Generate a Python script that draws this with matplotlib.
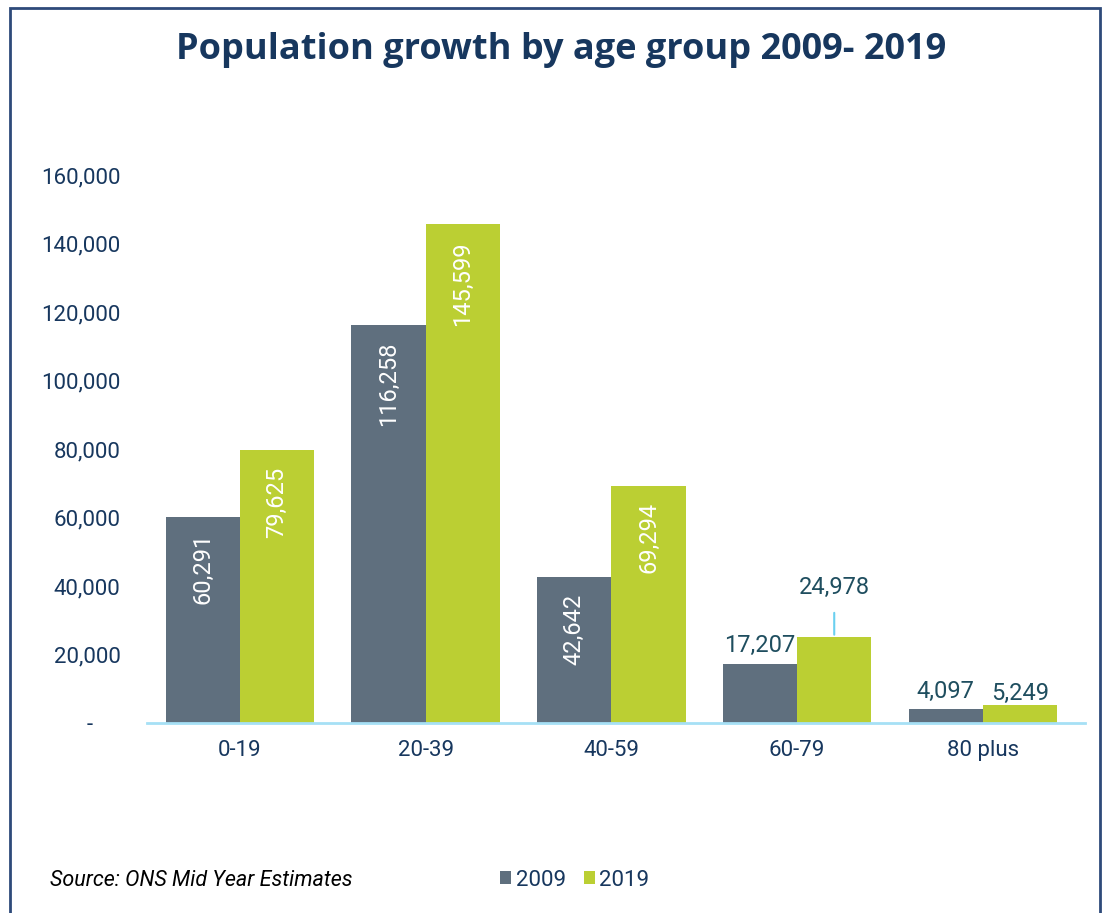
import matplotlib
matplotlib.use('Agg')
import matplotlib.pyplot as plt
from matplotlib.patches import Rectangle
import numpy as np

age_groups = ['0-19', '20-39', '40-59', '60-79', '80 plus']
pop_2009 = [60291, 116258, 42642, 17207, 4097]
pop_2019 = [79625, 145599, 69294, 24978, 5249]
y_ticks = [0, 20000, 40000, 60000, 80000, 100000, 120000, 140000, 160000]

GREY = '#5f6f7e'
GREEN = '#bbcf33'
NAVY = '#17375e'
TEAL = '#1f4e5f'
LIGHT_BLUE = '#a6e0f5'

plt.rcParams['font.family'] = ['Roboto', 'DejaVu Sans']

fig = plt.figure(figsize=(11.12, 9.13), dpi=100)
ax = fig.add_axes([0.1322, 0.2081, 0.8435, 0.6002])

x = np.arange(len(age_groups))
w = 0.4
b1 = ax.bar(x - w / 2, pop_2009, w, color=GREY, label='2009')
b2 = ax.bar(x + w / 2, pop_2019, w, color=GREEN, label='2019')

ax.set_xlim(-0.5, 4.55)
ax.set_ylim(0, 160000)
ax.set_yticks(y_ticks)
ax.set_yticklabels(['-     ' if v == 0 else f'{v:,}' for v in y_ticks])
ax.set_xticks(x)
ax.set_xticklabels(age_groups)
ax.tick_params(axis='both', length=0, labelsize=16, colors=NAVY)
ax.tick_params(axis='y', pad=19)
ax.tick_params(axis='x', pad=12)
for s in ['top', 'right', 'left']:
    ax.spines[s].set_visible(False)
ax.spines['bottom'].set_color(LIGHT_BLUE)
ax.spines['bottom'].set_linewidth(2)

# подписи внутри столбцов
for bars, vals in [(b1, pop_2009), (b2, pop_2019)]:
    for i, (bar, v) in enumerate(zip(bars, vals)):
        cx = bar.get_x() + bar.get_width() / 2
        if i < 3:
            ax.annotate(f'{v:,}', (cx, v), xytext=(0, -12), textcoords='offset points',
                        rotation=90, ha='center', va='top', color='white', fontsize=17)

# подписи снаружи
ax.annotate(f'{pop_2009[3]:,}', (x[3] - w / 2, pop_2009[3]), xytext=(0, 5),
            textcoords='offset points', ha='center', va='bottom', color=TEAL, fontsize=17)
ax.annotate(f'{pop_2019[3]:,}', (x[3] + w / 2, pop_2019[3]), xytext=(0, 28),
            textcoords='offset points', ha='center', va='bottom', color=TEAL, fontsize=17)
ax.annotate('', (x[3] + w / 2, pop_2019[3]), xytext=(x[3] + w / 2, pop_2019[3] + 8000),
            arrowprops=dict(arrowstyle='-', color='#6ad0f0', lw=1.5))
ax.annotate(f'{pop_2009[4]:,}', (x[4] - w / 2, pop_2009[4]), xytext=(0, 4),
            textcoords='offset points', ha='center', va='bottom', color=TEAL, fontsize=17)
ax.annotate(f'{pop_2019[4]:,}', (x[4] + w / 2, pop_2019[4]), xytext=(0, 0),
            textcoords='offset points', ha='center', va='bottom', color=TEAL, fontsize=17)

fig.text(0.505, 0.945, 'Population growth by age group 2009- 2019', ha='center', va='center',
         fontsize=26, fontweight='bold', color=NAVY, family=['Open Sans', 'DejaVu Sans'])
fig.text(0.045, 0.036, 'Source: ONS Mid Year Estimates', ha='left', va='center',
         fontsize=15.5, style='italic', color='black')

leg = fig.legend(handles=[b1, b2], loc='center', bbox_to_anchor=(0.517, 0.036), ncol=2,
                 frameon=False, fontsize=16, handlelength=0.5, handleheight=0.5,
                 handletextpad=0.2, columnspacing=0.8)
for t in leg.get_texts():
    t.set_color(NAVY)

fig.patches.append(Rectangle((10 / 1112, -0.05), 1090 / 1112, (905 + 46) / 913,
                             transform=fig.transFigure, fill=False, edgecolor='#2e4a7a',
                             linewidth=2))

fig.savefig('out.png', dpi=100)
